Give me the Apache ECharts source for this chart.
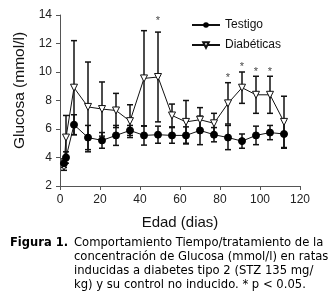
<!DOCTYPE html>
<html>
<head>
<meta charset="utf-8">
<script src="https://cdn.jsdelivr.net/npm/echarts@6/dist/echarts.min.js"></script>
<style>
  html, body { margin: 0; padding: 0; background: #fff; }
  #chart { width: 335px; height: 301px; }
</style>
</head>
<body>
<div id="chart"></div>
<script>
// dias de edad
var days = [2, 3, 7, 14, 21, 28, 35, 42, 49, 56, 63, 70, 77, 84, 91, 98, 105, 112];
// glucosa (mmol/l) y desviacion
var testigo = [3.6, 4.0, 6.3, 5.4, 5.2, 5.55, 5.9, 5.55, 5.6, 5.55, 5.55, 5.9, 5.6, 5.4, 5.15, 5.55, 5.75, 5.65];
var testigoSd = [0.3, 0.4, 0.7, 0.85, 0.55, 0.7, 0.35, 0.68, 0.6, 0.55, 0.6, 1.0, 0.5, 0.85, 0.5, 0.65, 0.5, 1.0];
var diabeticas = [3.35, 5.4, 8.9, 7.55, 7.4, 7.3, 6.55, 9.55, 9.65, 6.95, 6.5, 6.65, 6.4, 7.8, 8.9, 8.4, 8.4, 6.5];
var diabeticasSd = [0.25, 1.55, 3.3, 3.15, 1.9, 1.2, 1.15, 3.35, 3.15, 0.8, 1.5, 0.85, 0.7, 1.45, 1.1, 1.3, 1.3, 1.8];
// p < 0.05
var starDays = [49, 84, 91, 98, 105];
var starY = [13.6, 9.6, 10.35, 10.0, 10.0];
var caption = [
    'Comportamiento Tiempo/tratamiento de la',
    'concentración de Glucosa (mmol/l) en ratas',
    'inducidas a diabetes tipo 2 (STZ 135 mg/',
    'kg) y su control no inducido. * p < 0.05.'
];

var chart = echarts.init(document.getElementById('chart'));

function errorBars(vals, sds) {
    return days.map(function (d, i) { return [d, vals[i], sds[i]]; });
}

function renderError(params, api) {
    var x = api.value(0), y = api.value(1), sd = api.value(2);
    var top = api.coord([x, y + sd]);
    var bot = api.coord([x, y - sd]);
    var st = { stroke: '#111', lineWidth: 1.5 };
    return {
        type: 'group',
        children: [
            { type: 'line', shape: { x1: top[0], y1: top[1], x2: bot[0], y2: bot[1] }, style: st },
            { type: 'line', shape: { x1: top[0] - 3, y1: top[1], x2: top[0] + 3, y2: top[1] }, style: st },
            { type: 'line', shape: { x1: bot[0] - 3, y1: bot[1], x2: bot[0] + 3, y2: bot[1] }, style: st }
        ]
    };
}

var captionGraphics = [{
    type: 'text', x: 10, y: 243,
    style: { text: 'Figura 1.', font: 'bold 11.5px "DejaVu Sans"', fill: '#000', verticalAlign: 'middle' }
}];
caption.forEach(function (line, i) {
    captionGraphics.push({
        type: 'text', x: 74, y: 243 + i * 14,
        style: { text: line, font: '11.6px "DejaVu Sans"', fill: '#000', verticalAlign: 'middle' }
    });
});

var option = {
    animation: false,
    textStyle: { fontFamily: '"Liberation Sans", Arial, sans-serif' },
    grid: { left: 60, right: 35, top: 15, bottom: 115 },
    legend: {
        orient: 'vertical',
        left: 186,
        top: 14,
        itemWidth: 28,
        itemHeight: 7,
        itemGap: 8,
        data: ['Testigo', 'Diabéticas'],
        textStyle: { fontSize: 12, color: '#111' }
    },
    xAxis: {
        type: 'value',
        min: 0, max: 120, interval: 20,
        name: 'Edad (dias)',
        nameLocation: 'middle',
        nameGap: 29,
        nameTextStyle: { fontSize: 15, color: '#111' },
        axisLine: { lineStyle: { color: '#555' } },
        axisTick: { length: 4, lineStyle: { color: '#555' } },
        axisLabel: { fontSize: 12, color: '#222', margin: 8 },
        splitLine: { show: false }
    },
    yAxis: {
        type: 'value',
        min: 2, max: 14, interval: 2,
        name: 'Glucosa (mmol/l)',
        nameLocation: 'middle',
        nameGap: 27,
        nameTextStyle: { fontSize: 15.5, color: '#111', padding: [0, 0, 0, 20] },
        axisLine: { show: true, lineStyle: { color: '#555' } },
        axisTick: { show: true, length: 4, lineStyle: { color: '#555' } },
        axisLabel: { fontSize: 12, color: '#222', margin: 8 },
        splitLine: { show: false }
    },
    series: [
        {
            type: 'custom',
            renderItem: renderError,
            data: errorBars(diabeticas, diabeticasSd),
            z: 1
        },
        {
            type: 'custom',
            renderItem: renderError,
            data: errorBars(testigo, testigoSd),
            z: 1
        },
        {
            name: 'Diabéticas',
            type: 'line',
            data: days.map(function (d, i) { return [d, diabeticas[i]]; }),
            symbol: 'triangle',
            symbolRotate: 180,
            symbolSize: 7,
            itemStyle: { color: '#fff', borderColor: '#111', borderWidth: 1 },
            lineStyle: { color: '#111', width: 1 },
            z: 3
        },
        {
            name: 'Testigo',
            type: 'line',
            data: days.map(function (d, i) { return [d, testigo[i]]; }),
            symbol: 'circle',
            symbolSize: 7,
            itemStyle: { color: '#000', borderColor: '#000' },
            lineStyle: { color: '#111', width: 1 },
            z: 4
        },
        {
            type: 'scatter',
            data: starDays.map(function (d, i) { return [d, starY[i]]; }),
            symbolSize: 0,
            silent: true,
            label: {
                show: true,
                position: 'inside',
                formatter: '*',
                fontSize: 11,
                color: '#111'
            }
        }
    ],
    graphic: captionGraphics
};

chart.setOption(option);
</script>
</body>
</html>
